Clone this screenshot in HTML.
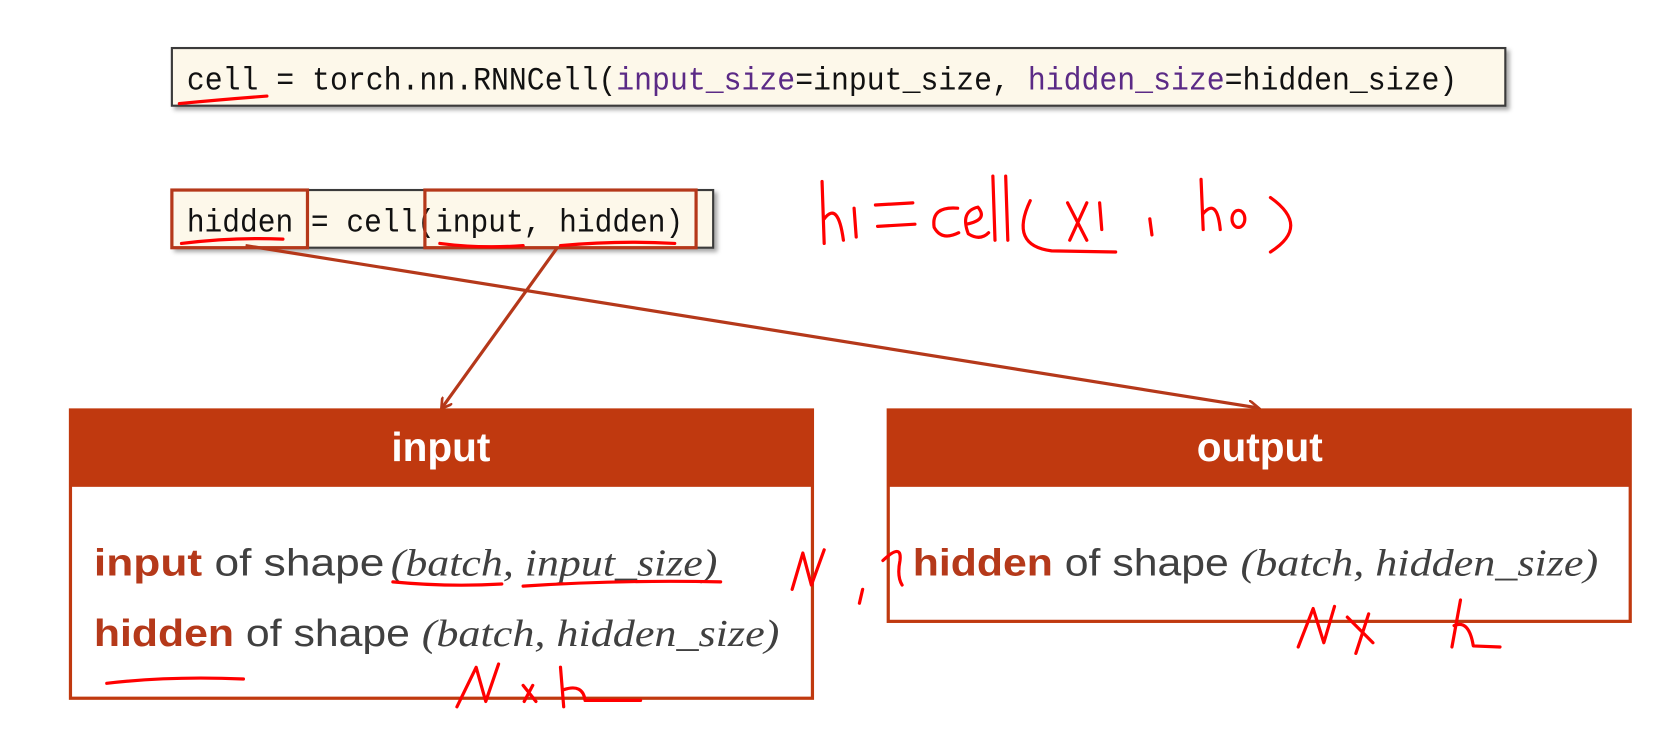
<!DOCTYPE html>
<html><head><meta charset="utf-8"><style>html,body{margin:0;padding:0;background:#fff;}svg{display:block}</style></head>
<body>
<svg width="1674" height="734" viewBox="0 0 1568 687.5" preserveAspectRatio="none" xmlns="http://www.w3.org/2000/svg">
<defs><filter id="sh" x="-5%" y="-20%" width="110%" height="150%"><feDropShadow dx="3" dy="3" stdDeviation="2" flood-color="#000" flood-opacity="0.35"/></filter>
<marker id="ar" markerWidth="12" markerHeight="12" refX="9" refY="6" orient="auto" markerUnits="userSpaceOnUse"><path d="M0,0 L10,6 L0,12" fill="none" stroke="#b5381a" stroke-width="2.5"/></marker></defs>
<rect x="161" y="45" width="1249" height="54" fill="#fdf8ea" stroke="#3a3a3a" stroke-width="2" filter="url(#sh)"/>
<text x="175" y="84" font-family="Liberation Mono, monospace" font-size="30" fill="#111" textLength="1190" lengthAdjust="spacingAndGlyphs">cell = torch.nn.RNNCell(<tspan fill="#5b2a86">input_size</tspan>=input_size, <tspan fill="#5b2a86">hidden_size</tspan>=hidden_size)</text>
<rect x="161" y="178" width="507" height="54" fill="#fdf8ea" stroke="#3a3a3a" stroke-width="2" filter="url(#sh)"/>
<text x="175" y="217" font-family="Liberation Mono, monospace" font-size="30" fill="#111" textLength="465" lengthAdjust="spacingAndGlyphs">hidden = cell(input, hidden)</text>
<rect x="161" y="178" width="127" height="54" fill="none" stroke="#b5381a" stroke-width="3"/>
<rect x="398" y="178" width="254" height="54" fill="none" stroke="#b5381a" stroke-width="3"/>
<line x1="522" y1="232" x2="414" y2="382" stroke="#b5381a" stroke-width="3" marker-end="url(#ar)"/>
<line x1="230" y1="230" x2="1178" y2="382" stroke="#b5381a" stroke-width="3" marker-end="url(#ar)"/>
<rect x="66" y="384" width="695" height="270" fill="#fff" stroke="#c0390f" stroke-width="3"/>
<rect x="65" y="383" width="697" height="73" fill="#c0390f"/>
<text x="413" y="432" text-anchor="middle" font-family="Liberation Sans, sans-serif" font-weight="bold" font-size="38" fill="#fff">input</text>
<text x="88" y="539" font-family="Liberation Sans, sans-serif" font-size="36" fill="#404040" textLength="272" lengthAdjust="spacingAndGlyphs"><tspan font-weight="bold" fill="#b5391a">input</tspan> of shape</text>
<text x="366" y="539" font-family="Liberation Serif, serif" font-style="italic" font-size="36" fill="#404040" textLength="306" lengthAdjust="spacingAndGlyphs">(batch, input_size)</text>
<text x="88" y="605" font-family="Liberation Sans, sans-serif" font-size="36" fill="#404040" textLength="296" lengthAdjust="spacingAndGlyphs"><tspan font-weight="bold" fill="#b5391a">hidden</tspan> of shape</text>
<text x="395" y="605" font-family="Liberation Serif, serif" font-style="italic" font-size="36" fill="#404040" textLength="335" lengthAdjust="spacingAndGlyphs">(batch, hidden_size)</text>
<rect x="832" y="384" width="695" height="198" fill="#fff" stroke="#c0390f" stroke-width="3"/>
<rect x="831" y="383" width="697" height="73" fill="#c0390f"/>
<text x="1180" y="432" text-anchor="middle" font-family="Liberation Sans, sans-serif" font-weight="bold" font-size="38" fill="#fff">output</text>
<text x="855" y="539" font-family="Liberation Sans, sans-serif" font-size="36" fill="#404040" textLength="296" lengthAdjust="spacingAndGlyphs"><tspan font-weight="bold" fill="#b5391a">hidden</tspan> of shape</text>
<text x="1162" y="539" font-family="Liberation Serif, serif" font-style="italic" font-size="36" fill="#404040" textLength="335" lengthAdjust="spacingAndGlyphs">(batch, hidden_size)</text>
<g fill="none" stroke="#f00" stroke-width="3" stroke-linecap="round" stroke-linejoin="round">
<path d="M168,97 Q210,93 250,90"/>
<path d="M170,228 Q220,222 265,224"/>
<path d="M412,228 Q450,233 490,230"/>
<path d="M525,230 Q580,225 632,228"/>
<path d="M770,170 L772,228 M772,205 Q785,188 790,225"/>
<path d="M800,195 L802,222"/>
<path d="M820,192 L855,190 M822,212 L857,210"/>
<path d="M897,195 Q872,193 875,213 Q882,226 898,218"/>
<path d="M905,210 Q926,206 916,194 Q899,198 907,219 Q918,226 926,218"/>
<path d="M930,165 L932,225 M942,165 L944,225"/>
<path d="M965,188 Q945,230 985,235 L1045,236"/>
<path d="M1000,190 L1018,225 M1018,190 L1002,225"/>
<path d="M1030,190 L1032,215"/>
<path d="M1077,205 L1079,220"/>
<path d="M1125,168 L1127,215 M1127,200 Q1140,185 1143,215"/>
<ellipse cx="1160" cy="205" rx="6" ry="8"/>
<path d="M1190,185 Q1228,212 1190,236"/>
<path d="M368,545 Q420,550 470,547"/>
<path d="M490,549 Q580,543 675,545"/>
<path d="M100,640 Q160,633 228,636"/>
<path d="M428,662 L446,625 L455,657 L467,622"/>
<path d="M490,642 L502,657 M499,642 L491,657"/>
<path d="M525,625 L528,662 M528,646 Q546,640 548,656 L600,656"/>
<path d="M742,552 L752,518 L760,548 L772,515"/>
<path d="M808,552 L805,565"/>
<path d="M827,525 Q845,508 843,525 Q840,540 845,548"/>
<path d="M1216,606 L1230,570 L1240,602 L1250,568"/>
<path d="M1262,578 L1286,602 M1282,575 L1270,612"/>
<path d="M1368,562 L1360,606 M1362,586 Q1376,580 1380,605 L1405,606"/>
</g>
</svg>
</body></html>
